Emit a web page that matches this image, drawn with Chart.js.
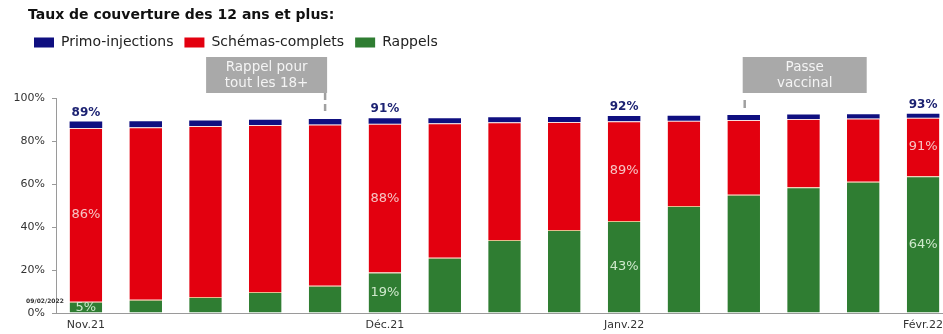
<!DOCTYPE html>
<html><head><meta charset="utf-8">
<script src="https://cdn.jsdelivr.net/npm/chart.js@4.4.1/dist/chart.umd.min.js"></script>
<style>
html,body{margin:0;padding:0;overflow:hidden;background:#fff;width:943px;height:334px}
#wrap{position:relative;width:953px;height:334px}
</style></head>
<body><div id="wrap"><canvas id="c"></canvas></div>
<script>
// ---- data (cumulative coverage, % of population aged 12+) ----
const categories = ['Nov.21','','','','','Déc.21','','','','Janv.22','','','','','Févr.22'];
const primoInjections = [89.1, 89.2, 89.5, 89.9, 90.2, 90.6, 90.6, 91.0, 91.2, 91.6, 91.8, 92.1, 92.3, 92.5, 92.7];
const schemasComplets = [86.0, 86.4, 87.0, 87.4, 87.7, 88.0, 88.2, 88.7, 88.8, 89.2, 89.4, 89.8, 90.2, 90.5, 90.8];
const rappels = [5.2, 6.2, 7.4, 9.8, 12.7, 18.8, 25.7, 34.0, 38.6, 42.8, 49.8, 55.0, 58.5, 61.0, 63.6];
const yTickValues = [0, 20, 40, 60, 80, 100];
const labelledIdx = [0, 5, 9, 14];
const seriesNames = ['Rappels', 'Schémas-complets', 'Primo-injections'];
const titleText = 'Taux de couverture des 12 ans et plus:';
const noteText = '09/02/2022';
const annotationIdx = [4, 11];
const annotationLines = [['Rappel pour', 'tout les 18+'], ['Passe', 'vaccinal']];

// segments for the stacked bars
const segRappels = rappels.slice();
const segComplets = schemasComplets.map((v, i) => v - rappels[i]);
const segPrimo = primoInjections.map((v, i) => v - schemasComplets[i]);

const FONT = '"DejaVu Sans", sans-serif';
Chart.defaults.font.family = FONT;

const layoutTweak = {
  id: 'layoutTweak',
  beforeInit(chart) {
    const lg = chart.legend;
    const orig = lg.fit;
    lg.fit = function () { orig.call(this); this.height = 73.6; };
  },
  afterLayout(chart) {
    const t = chart.titleBlock;
    if (t) { t.left += 28; t.right += 28; }
    const lg = chart.legend;
    if (lg) { lg.left += 23; lg.right += 23; }
  }
};

const overlay = {
  id: 'overlay',
  afterDatasetsDraw(chart) {
    const ctx = chart.ctx;
    const xs = chart.scales.x, ys = chart.scales.y;
    const mR = chart.getDatasetMeta(0), mS = chart.getDatasetMeta(1), mP = chart.getDatasetMeta(2);
    ctx.save();
    ctx.textAlign = 'center';
    ctx.textBaseline = 'middle';
    labelledIdx.forEach(i => {
      const g = mR.data[i], r = mS.data[i], b = mP.data[i];
      ctx.font = '13px ' + FONT;
      ctx.fillStyle = '#cfe8cc';
      ctx.fillText(Math.round(rappels[i]) + '%', g.x, (g.y + g.base) / 2);
      ctx.fillStyle = '#f6c4c4';
      ctx.fillText(Math.round(schemasComplets[i]) + '%', r.x, (r.y + r.base) / 2);
      ctx.font = 'bold 12px ' + FONT;
      ctx.fillStyle = '#1c2272';
      ctx.fillText(Math.round(primoInjections[i]) + '%', b.x, b.y - 9);
    });
    // date note
    ctx.font = 'bold 6px ' + FONT;
    ctx.fillStyle = '#333';
    ctx.fillText(noteText, xs.left - 11, ys.getPixelForValue(5.2));

    // annotation boxes
    const boxTop = 57, boxH = 36;
    annotationIdx.forEach((idx, k) => {
      const cx = xs.getPixelForValue(idx);
      const w = k === 0 ? 121 : 124;
      const left = k === 0 ? cx + 2 - w : cx - 1;
      ctx.fillStyle = '#a9a9a9';
      ctx.fillRect(left, boxTop, w, boxH);
      ctx.fillStyle = '#f4f4f4';
      ctx.font = '13.5px ' + FONT;
      const lines = annotationLines[k];
      ctx.fillText(lines[0], left + w / 2, boxTop + 10);
      ctx.fillText(lines[1], left + w / 2, boxTop + 26);
      const barTop = mP.data[idx].y;
      ctx.strokeStyle = '#a0a0a0';
      ctx.lineWidth = 2.5;
      ctx.beginPath();
      if (k === 0) {
        ctx.setLineDash([7, 4]);
        ctx.moveTo(cx, boxTop + boxH);
        ctx.lineTo(cx, barTop - 4);
      } else {
        ctx.setLineDash([]);
        ctx.moveTo(cx + 1, boxTop + boxH + 7);
        ctx.lineTo(cx + 1, boxTop + boxH + 15);
      }
      ctx.stroke();
    });
    ctx.restore();
  }
};

new Chart(document.getElementById('c'), {
  type: 'bar',
  data: {
    labels: categories,
    datasets: [
      { label: seriesNames[0], data: segRappels, backgroundColor: '#2f7d32',
        borderColor: '#e8b98c', borderWidth: { top: 1, left: 0, right: 0, bottom: 0 }, borderSkipped: false },
      { label: seriesNames[1], data: segComplets, backgroundColor: '#e3000f',
        borderColor: '#f7dede', borderWidth: { top: 1, left: 0, right: 0, bottom: 0 }, borderSkipped: false },
      { label: seriesNames[2], data: segPrimo, backgroundColor: '#0f0f80', borderWidth: 0 }
    ]
  },
  options: {
    responsive: true,
    maintainAspectRatio: false,
    animation: false,
    layout: { padding: { top: 0, left: 0, right: 0, bottom: 1.8 } },
    datasets: { bar: { categoryPercentage: 1, barPercentage: 0.545 } },
    plugins: {
      tooltip: { enabled: false },
      title: {
        display: true, text: titleText, align: 'start', color: '#111',
        font: { size: 14, weight: 'bold', family: FONT },
        padding: { top: 6.6, bottom: 1 }
      },
      legend: {
        display: true, align: 'start', reverse: true,
        labels: {
          boxWidth: 20, boxHeight: 10, padding: 11, color: '#222',
          font: { size: 14, family: FONT },
          generateLabels(chart) {
            return Chart.defaults.plugins.legend.labels.generateLabels(chart).map(l => {
              l.lineWidth = 0; return l;
            });
          }
        }
      }
    },
    scales: {
      x: {
        stacked: true,
        afterFit(s) { s.height = 19.2; },
        grid: { display: false, drawTicks: false, tickLength: 0 },
        border: { display: true, color: '#9a9a9a', width: 1 },
        ticks: { autoSkip: false, maxRotation: 0, padding: 6, color: '#333', font: { size: 11, family: FONT } }
      },
      y: {
        stacked: true, min: 0, max: 100,
        afterFit(s) { s.width = 56; },
        afterBuildTicks(s) { s.ticks = yTickValues.map(v => ({ value: v })); },
        grid: { drawOnChartArea: false, drawTicks: true, tickLength: 4, color: '#9a9a9a' },
        border: { display: true, color: '#9a9a9a', width: 1 },
        ticks: { padding: 7, color: '#333', font: { size: 11, family: FONT }, callback: v => v + '%' }
      }
    }
  },
  plugins: [layoutTweak, overlay]
});
</script>
</body></html>
